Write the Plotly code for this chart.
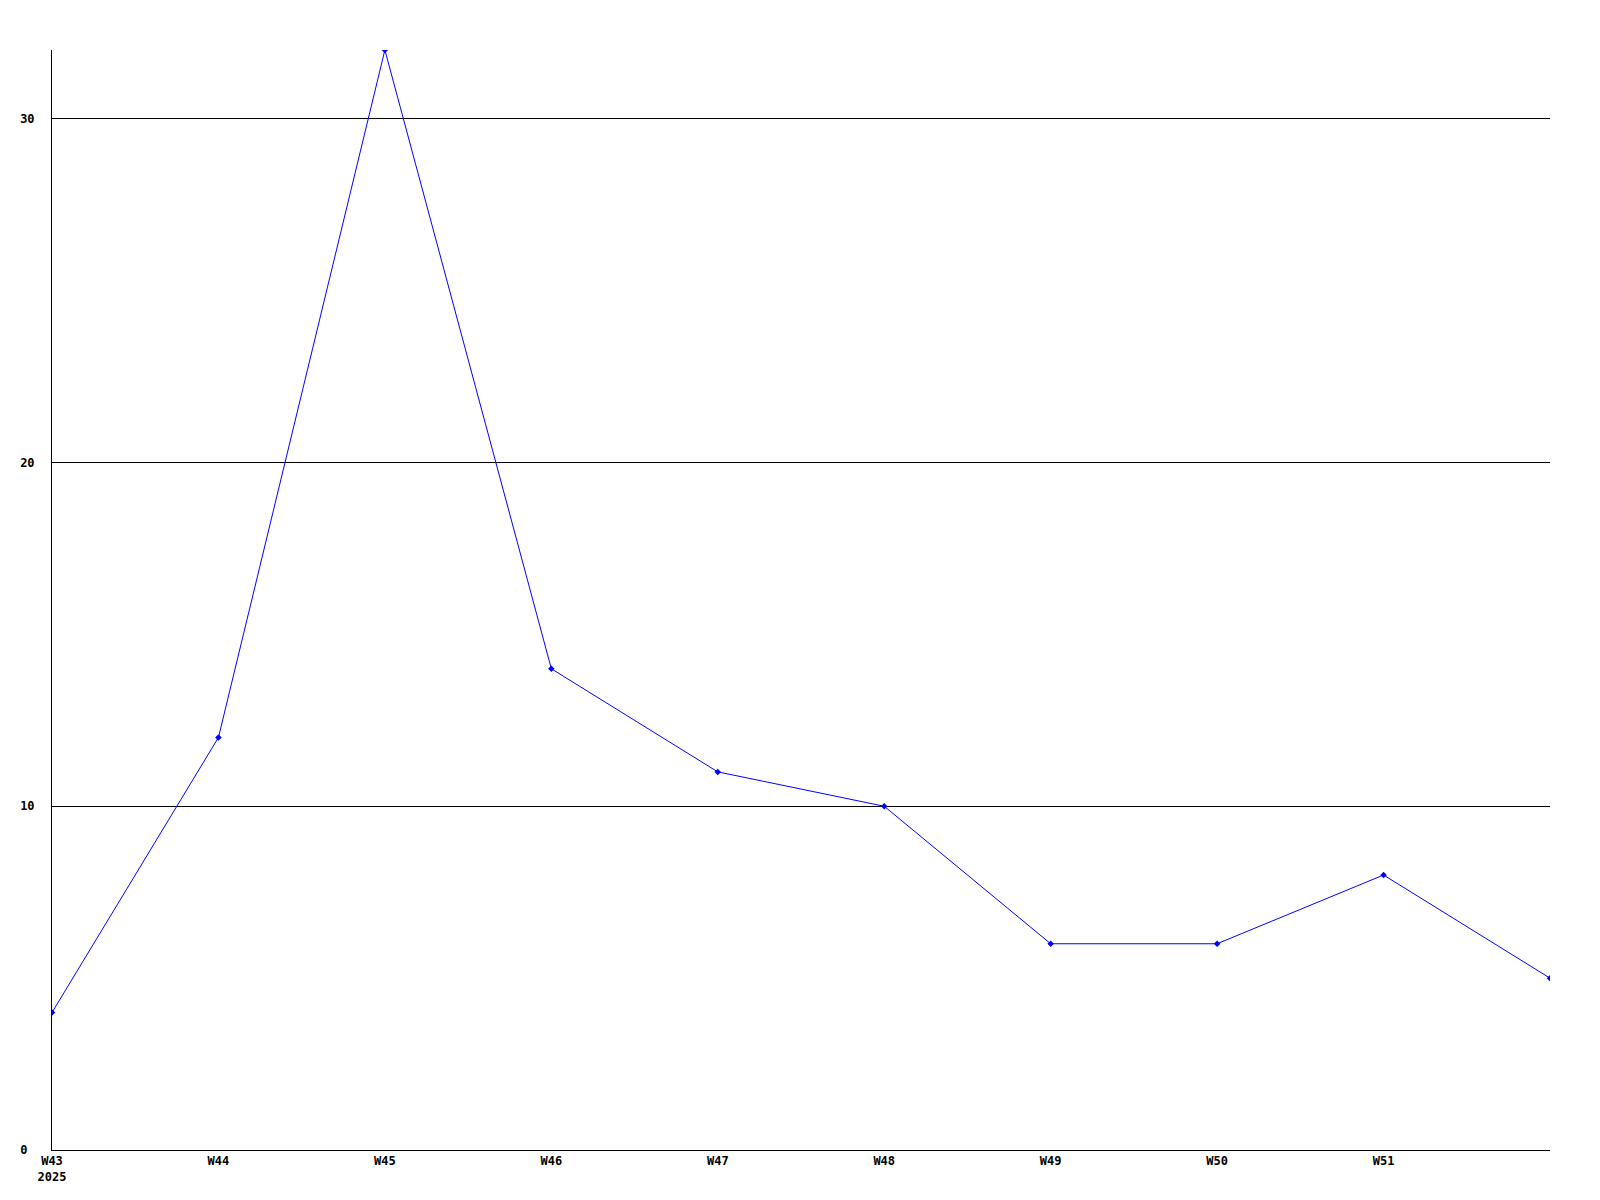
import plotly.graph_objects as go

# weekly counts
weeks = ["W43", "W44", "W45", "W46", "W47", "W48", "W49", "W50", "W51", "W52"]
counts = [4, 12, 32, 14, 11, 10, 6, 6, 8, 5]

# axis labels
x_tick_weeks = ["W43", "W44", "W45", "W46", "W47", "W48", "W49", "W50", "W51"]
x_tick_text = ["W43<br>2025", "W44", "W45", "W46", "W47", "W48", "W49", "W50", "W51"]
y_tick_vals = [0, 10, 20, 30]
y_tick_text = ["0\u00a0", "10", "20", "30"]

FONT = dict(family="DejaVu Sans Mono", size=12, color="black", weight="bold")

fig = go.Figure()

fig.add_trace(
    go.Scatter(
        x=weeks, y=counts,
        mode="lines+markers",
        line=dict(color="#0000ff", width=1),
        marker=dict(color="#0000ff", symbol="diamond", size=5),
        showlegend=False,
    )
)

# page body adds 8px, so margins are trimmed on top/left
fig.update_layout(
    width=1600, height=1200,
    paper_bgcolor="white",
    plot_bgcolor="white",
    margin=dict(l=42, r=58, t=42, b=58),
    font=FONT,
)

fig.update_xaxes(
    type="category",
    range=[0, 9],
    tickvals=x_tick_weeks,
    ticktext=x_tick_text,
    tickfont=FONT,
    showgrid=False,
    showline=True, linecolor="black", linewidth=1,
    ticks="",
    zeroline=False,
)

fig.update_yaxes(
    range=[0, 32],
    tickvals=y_tick_vals,
    ticktext=y_tick_text,
    tickfont=FONT,
    showgrid=True, gridcolor="black", gridwidth=1,
    showline=True, linecolor="black", linewidth=1,
    ticks="",
    ticklabelstandoff=14,
    zeroline=False,
)

fig.write_html("out.html")
